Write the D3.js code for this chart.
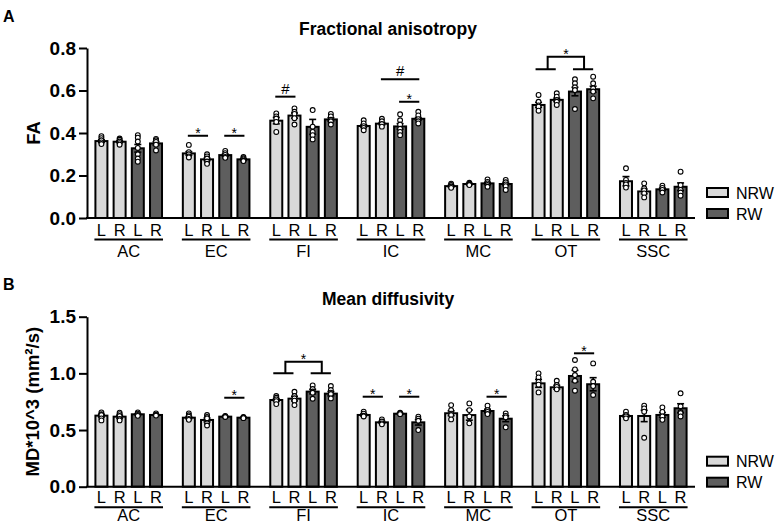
<!DOCTYPE html>
<html>
<head>
<meta charset="utf-8">
<script src="https://cdn.jsdelivr.net/npm/d3@7"></script>
<style>
  body { margin: 0; background: #fff; }
  svg text { font-family: Arial, "Liberation Sans", Helvetica, sans-serif; }
</style>
</head>
<body>
<div id="chart"></div>
<script>
const W = 777, H = 525;

// brain regions and the four bars in each (NRW L, NRW R, RW L, RW R)
const regions = ["AC", "EC", "FI", "IC", "MC", "OT", "SSC"];
const sides = ["L", "R", "L", "R"];
const conditions = ["NRW", "RW"];
const barCondition = [0, 0, 1, 1];

// Fractional anisotropy
const faTicks = [0, 0.2, 0.4, 0.6, 0.8];
const faMean = [
  [0.362, 0.359, 0.328, 0.351],
  [0.304, 0.276, 0.296, 0.276],
  [0.458, 0.482, 0.429, 0.464],
  [0.433, 0.444, 0.431, 0.467],
  [0.150, 0.160, 0.163, 0.160],
  [0.532, 0.556, 0.595, 0.606],
  [0.173, 0.125, 0.135, 0.147]
];
const faSem = [
  [0.006, 0.004, 0.018, 0.008],
  [0.008, 0.006, 0.005, 0.003],
  [0.015, 0.012, 0.035, 0.008],
  [0.006, 0.005, 0.013, 0.006],
  [0.004, 0.003, 0.005, 0.008],
  [0.012, 0.008, 0.020, 0.014],
  [0.022, 0.011, 0.006, 0.018]
];
const faDots = [
  [[0.385, 0.376, 0.366, 0.356, 0.348], [0.374, 0.368, 0.36, 0.352, 0.345], [0.39, 0.378, 0.36, 0.33, 0.30, 0.28, 0.265], [0.372, 0.366, 0.358, 0.345, 0.318]],
  [[0.344, 0.31, 0.30, 0.29, 0.285], [0.30, 0.29, 0.28, 0.266, 0.255], [0.316, 0.305, 0.297, 0.287, 0.283], [0.287, 0.281, 0.276, 0.27, 0.268]],
  [[0.492, 0.478, 0.468, 0.452, 0.405], [0.516, 0.50, 0.49, 0.47, 0.44], [0.508, 0.43, 0.405, 0.39, 0.37], [0.49, 0.478, 0.462, 0.455, 0.44]],
  [[0.46, 0.445, 0.432, 0.424, 0.413], [0.467, 0.455, 0.442, 0.43], [0.488, 0.46, 0.44, 0.42, 0.405, 0.39], [0.50, 0.483, 0.465, 0.455, 0.445]],
  [[0.162, 0.155, 0.148, 0.142], [0.166, 0.162, 0.158, 0.155], [0.182, 0.17, 0.163, 0.155, 0.147], [0.179, 0.168, 0.158, 0.15, 0.132]],
  [[0.579, 0.547, 0.53, 0.524, 0.505], [0.587, 0.571, 0.555, 0.547, 0.532], [0.653, 0.634, 0.615, 0.602, 0.513], [0.665, 0.634, 0.61, 0.595, 0.563]],
  [[0.234, 0.179, 0.165, 0.158, 0.143], [0.163, 0.14, 0.13, 0.116, 0.097], [0.152, 0.142, 0.132, 0.12], [0.218, 0.155, 0.132, 0.12, 0.105]]
];
const faLines = [
  { region: "EC", a: 0, b: 1, y: 0.387, label: "*" },
  { region: "EC", a: 2, b: 3, y: 0.387, label: "*" },
  { region: "FI", a: 0, b: 1, y: 0.571, label: "#" },
  { region: "IC", a: 1, b: 3, y: 0.653, label: "#" },
  { region: "IC", a: 2, b: 3, y: 0.547, label: "*" }
];
const faBrackets = [{ region: "OT", y: 0.70, top: 0.759, label: "*" }];

// Mean diffusivity
const mdTicks = [0, 0.5, 1.0, 1.5];
const mdMean = [
  [0.627, 0.618, 0.639, 0.633],
  [0.609, 0.589, 0.618, 0.609],
  [0.765, 0.777, 0.839, 0.821],
  [0.633, 0.568, 0.644, 0.568],
  [0.648, 0.632, 0.668, 0.600],
  [0.912, 0.877, 0.977, 0.904],
  [0.624, 0.624, 0.633, 0.692]
];
const mdSem = [
  [0.012, 0.013, 0.006, 0.004],
  [0.010, 0.017, 0.003, 0.003],
  [0.012, 0.020, 0.020, 0.019],
  [0.010, 0.009, 0.004, 0.024],
  [0.021, 0.045, 0.016, 0.026],
  [0.035, 0.017, 0.050, 0.058],
  [0.011, 0.050, 0.021, 0.040]
];
const mdDots = [
  [[0.656, 0.64, 0.632, 0.603, 0.585], [0.653, 0.64, 0.624, 0.597, 0.585], [0.656, 0.645, 0.632, 0.625], [0.647, 0.636, 0.628]],
  [[0.647, 0.63, 0.618, 0.598, 0.59], [0.632, 0.615, 0.603, 0.559, 0.54], [0.625, 0.62, 0.615], [0.615, 0.61, 0.605]],
  [[0.80, 0.785, 0.77, 0.755, 0.729], [0.838, 0.80, 0.78, 0.759, 0.72], [0.894, 0.862, 0.84, 0.829, 0.776], [0.888, 0.853, 0.83, 0.818, 0.779]],
  [[0.662, 0.645, 0.626, 0.62], [0.594, 0.575, 0.559, 0.55], [0.652, 0.647, 0.64], [0.618, 0.60, 0.582, 0.50]],
  [[0.72, 0.676, 0.645, 0.632, 0.594], [0.735, 0.676, 0.62, 0.559], [0.715, 0.676, 0.66, 0.641], [0.647, 0.625, 0.612, 0.524]],
  [[1.0, 0.965, 0.926, 0.90, 0.832], [0.935, 0.897, 0.88, 0.859], [1.118, 1.035, 0.985, 0.935, 0.847], [1.088, 0.926, 0.888, 0.809]],
  [[0.662, 0.632, 0.62, 0.603], [0.715, 0.691, 0.662, 0.432], [0.70, 0.66, 0.62, 0.59], [0.824, 0.71, 0.66, 0.65, 0.62]]
];
const mdLines = [
  { region: "EC", a: 2, b: 3, y: 0.785, label: "*" },
  { region: "IC", a: 0, b: 1, y: 0.794, label: "*" },
  { region: "IC", a: 2, b: 3, y: 0.794, label: "*" },
  { region: "MC", a: 2, b: 3, y: 0.794, label: "*" },
  { region: "OT", a: 2, b: 3, y: 1.177, label: "*" }
];
const mdBrackets = [{ region: "FI", y: 1.0, top: 1.103, label: "*" }];

const fill = { NRW: "#d9d9d9", RW: "#5e5e5e" };
const font = 'Arial, "Liberation Sans", Helvetica, sans-serif';

const svg = d3.select("#chart").append("svg")
    .attr("width", W)
    .attr("height", H);

const x = d3.scaleBand().domain(regions).range([85, 697]);
const barStep = 18.2, barW = 12;
const axisLeftX = 87, axisRightX = 695;

function barX(region, k) {
    return x(region) + x.bandwidth() / 2 + (k - 1.5) * barStep;
}

function drawPanel(p) {
    const y = d3.scaleLinear().domain([0, p.yMax]).range([p.y0, p.y1]);
    const g = svg.append("g");

    // panel letter, title, y label
    g.append("text").attr("x", 3).attr("y", p.letterY)
        .attr("font-size", 16).attr("font-weight", "bold").text(p.letter);
    g.append("text").attr("x", 388).attr("y", p.titleY)
        .attr("text-anchor", "middle").attr("font-size", 17.5).attr("font-weight", "bold")
        .text(p.title);
    g.append("text")
        .attr("transform", `translate(${p.labelX},${(p.y0 + p.y1) / 2}) rotate(-90)`)
        .attr("text-anchor", "middle").attr("font-size", 18.5).attr("font-weight", "bold")
        .text(p.yLabel);

    // flat list of bars
    const bars = [];
    regions.forEach((r, i) => {
        sides.forEach((s, k) => {
            bars.push({
                region: r, k: k, side: s,
                cond: conditions[barCondition[k]],
                mean: p.mean[i][k], sem: p.sem[i][k], dots: p.dots[i][k]
            });
        });
    });

    g.selectAll(".bar")
        .data(bars)
        .enter()
        .append("rect")
        .attr("class", "bar")
        .attr("x", d => barX(d.region, d.k) - barW / 2)
        .attr("y", d => y(d.mean))
        .attr("width", barW)
        .attr("height", d => y(0) - y(d.mean))
        .attr("fill", d => fill[d.cond])
        .attr("stroke", "#000")
        .attr("stroke-width", 2);

    // error bars (mean +/- SEM)
    const err = g.selectAll(".err")
        .data(bars)
        .enter()
        .append("g")
        .attr("class", "err")
        .attr("stroke", "#000")
        .attr("stroke-width", 1.6);
    err.append("line")
        .attr("x1", d => barX(d.region, d.k)).attr("x2", d => barX(d.region, d.k))
        .attr("y1", d => y(d.mean - d.sem)).attr("y2", d => y(d.mean + d.sem));
    err.append("line")
        .attr("x1", d => barX(d.region, d.k) - 3.5).attr("x2", d => barX(d.region, d.k) + 3.5)
        .attr("y1", d => y(d.mean + d.sem)).attr("y2", d => y(d.mean + d.sem));
    err.append("line")
        .attr("x1", d => barX(d.region, d.k) - 3.5).attr("x2", d => barX(d.region, d.k) + 3.5)
        .attr("y1", d => y(d.mean - d.sem)).attr("y2", d => y(d.mean - d.sem));

    // individual animals
    const dots = [];
    bars.forEach(b => b.dots.forEach(v => dots.push({ region: b.region, k: b.k, v: v })));
    g.selectAll(".dot")
        .data(dots)
        .enter()
        .append("circle")
        .attr("class", "dot")
        .attr("cx", d => barX(d.region, d.k))
        .attr("cy", d => y(d.v))
        .attr("r", 2.4)
        .attr("fill", "#fff")
        .attr("stroke", "#000")
        .attr("stroke-width", 1.1);

    // y axis
    const ax = g.append("g")
        .attr("transform", `translate(${axisLeftX},0)`)
        .call(d3.axisLeft(y).tickValues(p.ticks).tickFormat(d3.format(".1f"))
            .tickSize(8).tickSizeOuter(0).tickPadding(3));
    ax.attr("font-family", font);
    ax.select(".domain").attr("stroke-width", 2);
    ax.selectAll(".tick line").attr("stroke-width", 2);
    ax.selectAll(".tick text").attr("font-size", 19).attr("font-weight", "bold").attr("fill", "#000");

    // x baseline
    g.append("line")
        .attr("x1", axisLeftX - 1).attr("x2", axisRightX)
        .attr("y1", y(0)).attr("y2", y(0))
        .attr("stroke", "#000").attr("stroke-width", 2);

    // L / R labels, group underline, region name
    g.selectAll(".side")
        .data(bars)
        .enter()
        .append("text")
        .attr("class", "side")
        .attr("x", d => barX(d.region, d.k))
        .attr("y", p.y0 + p.sideDy)
        .attr("text-anchor", "middle")
        .attr("font-size", 16.5)
        .text(d => d.side);
    g.selectAll(".under")
        .data(regions)
        .enter()
        .append("line")
        .attr("x1", r => barX(r, 0) - 7).attr("x2", r => barX(r, 3) + 7)
        .attr("y1", p.y0 + p.underDy).attr("y2", p.y0 + p.underDy)
        .attr("stroke", "#000").attr("stroke-width", 2);
    g.selectAll(".region")
        .data(regions)
        .enter()
        .append("text")
        .attr("x", r => x(r) + x.bandwidth() / 2)
        .attr("y", p.y0 + p.regionDy)
        .attr("text-anchor", "middle")
        .attr("font-size", 16.5)
        .text(r => r);

    // significance lines
    p.lines.forEach(s => {
        const x1 = barX(s.region, s.a) - 1, x2 = barX(s.region, s.b) + 1;
        g.append("line")
            .attr("x1", x1).attr("x2", x2).attr("y1", y(s.y)).attr("y2", y(s.y))
            .attr("stroke", "#000").attr("stroke-width", 2);
        g.append("text")
            .attr("x", (x1 + x2) / 2)
            .attr("y", s.label === "*" ? y(s.y) + 2.5 : y(s.y) - 3)
            .attr("text-anchor", "middle")
            .attr("font-size", s.label === "*" ? 14 : 15)
            .text(s.label);
    });

    // brackets comparing NRW pair vs RW pair
    p.brackets.forEach(s => {
        const m1 = (barX(s.region, 0) + barX(s.region, 1)) / 2;
        const m2 = (barX(s.region, 2) + barX(s.region, 3)) / 2;
        const path = d3.path();
        path.moveTo(barX(s.region, 0) - 3, y(s.y));
        path.lineTo(barX(s.region, 1) - 1, y(s.y));
        path.moveTo(barX(s.region, 2) - 2, y(s.y));
        path.lineTo(barX(s.region, 3), y(s.y));
        path.moveTo(m1, y(s.y));
        path.lineTo(m1, y(s.top));
        path.lineTo(m2, y(s.top));
        path.lineTo(m2, y(s.y));
        g.append("path").attr("d", path.toString())
            .attr("fill", "none").attr("stroke", "#000").attr("stroke-width", 2);
        g.append("text")
            .attr("x", (m1 + m2) / 2).attr("y", y(s.top) + 2.5)
            .attr("text-anchor", "middle").attr("font-size", 14)
            .text(s.label);
    });

    // legend
    conditions.forEach((c, i) => {
        const ly = p.y0 - 30 + i * 21;
        g.append("rect")
            .attr("x", 707).attr("y", ly).attr("width", 21).attr("height", 9)
            .attr("fill", fill[c]).attr("stroke", "#000").attr("stroke-width", 2);
        g.append("text")
            .attr("x", 736).attr("y", ly + 10.5)
            .attr("font-size", 16)
            .text(c);
    });
}

drawPanel({
    letter: "A", letterY: 21.5,
    title: "Fractional anisotropy", titleY: 35,
    yLabel: "FA", labelX: 40,
    yMax: 0.8, ticks: faTicks, y0: 218, y1: 48,
    sideDy: 17.5, underDy: 21.5, regionDy: 38.5,
    mean: faMean, sem: faSem, dots: faDots,
    lines: faLines, brackets: faBrackets
});

drawPanel({
    letter: "B", letterY: 290,
    title: "Mean diffusivity", titleY: 305,
    yLabel: "MD*10^3 (mm²/s)", labelX: 39,
    yMax: 1.5, ticks: mdTicks, y0: 486.7, y1: 316.7,
    sideDy: 16.5, underDy: 20.5, regionDy: 34,
    mean: mdMean, sem: mdSem, dots: mdDots,
    lines: mdLines, brackets: mdBrackets
});
</script>
</body>
</html>
